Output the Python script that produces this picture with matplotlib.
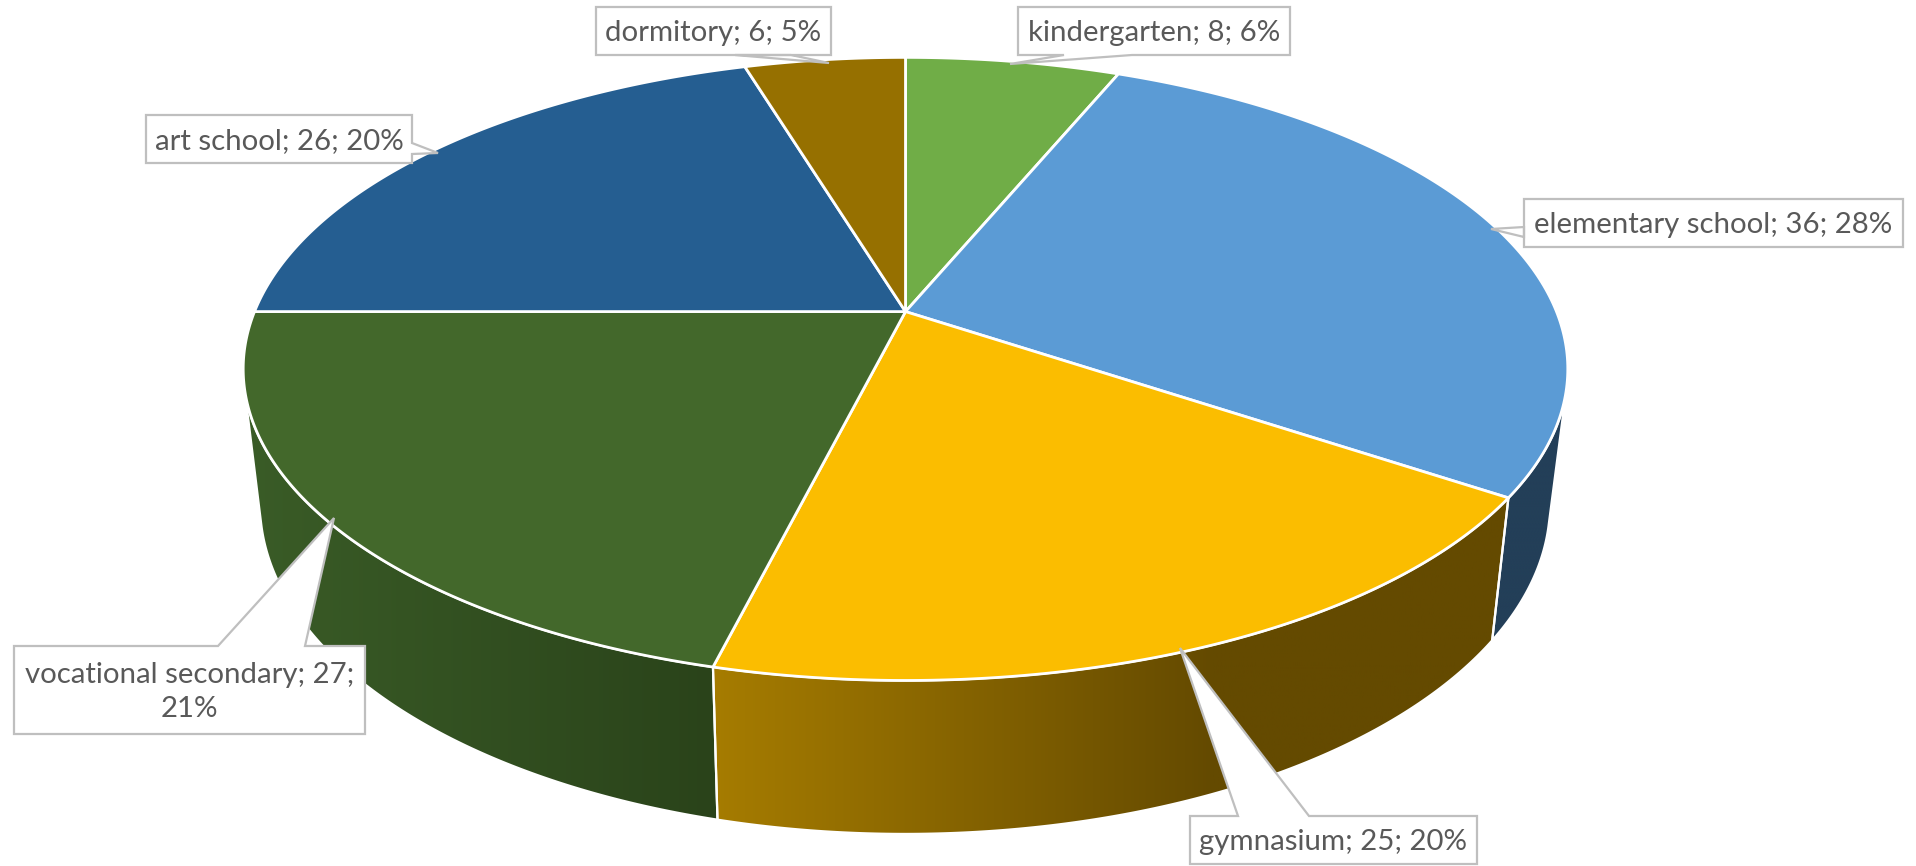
import matplotlib
matplotlib.use('Agg')
import matplotlib.pyplot as plt
from matplotlib.patches import Polygon
from matplotlib.colors import LinearSegmentedColormap
import numpy as np

# Data ===========================================
categories = ['kindergarten', 'elementary school', 'gymnasium',
              'vocational secondary', 'art school', 'dormitory']
values = [8, 36, 25, 27, 26, 6]
label_breaks = {'vocational secondary': ';\n'}

top_colors = ['#70AD47', '#5B9BD5', '#FBBD00', '#43682B', '#255E91', '#967000']
# side faces: left colour, right colour
side_colors = {'elementary school': ('#233F58', '#233F58'),
               'gymnasium': ('#A67C00', '#644A00'),
               'vocational secondary': ('#3A5C27', '#2A431A')}
text_color = '#595959'
box_color = '#BFBFBF'

# label boxes: x0, y0, x1, y1 in pixels, then the leader (base a, base b, tip)
boxes = {
    'kindergarten': (1018, 7, 1290, 55, (1132, 55), (1064, 55), (1010, 64)),
    'elementary school': (1524, 199, 1903, 247, (1524, 227), (1524, 237), (1491, 229)),
    'gymnasium': (1190, 816, 1477, 864, (1238, 816), (1309, 816), (1180, 648)),
    'vocational secondary': (14, 646, 365, 734, (218, 646), (305, 646), (334, 518)),
    'art school': (146, 115, 412, 163, (412, 143), (412, 154), (438, 153)),
    'dormitory': (596, 7, 831, 55, (735, 55), (791, 55), (829, 63)),
}

# Perspective of the two discs ===================
k = 0.184
top_disc = (905.5, 311.6, 651, 301)
bottom_disc = (905, 443, 634, 319)
side_from, side_to = 104, 256  # silhouette of the cylinder, degrees


def rim(disc, angles):
    cx, cy, a, b = disc
    rad = np.radians(angles)
    w = 1 + k * np.cos(rad)
    return np.column_stack([cx + a * np.sin(rad) / w, cy - b * np.cos(rad) / w])


# General ========================================
fig = plt.figure(figsize=(19.16, 8.66), dpi=100)
ax = fig.add_axes([0, 0, 1, 1])
total = sum(values)
edges = np.concatenate([[0], np.cumsum(values)]) / total * 360

# Sides ==========================================
for i, name in enumerate(categories):
    if name not in side_colors:
        continue
    a0 = max(edges[i], side_from)
    a1 = min(edges[i + 1], side_to)
    arc = np.linspace(a0, a1, 150)
    pts = np.vstack([rim(top_disc, arc), rim(bottom_disc, arc[::-1])])
    outline = Polygon(pts, closed=True, fc='none', ec='white', lw=1.6, zorder=3)
    ax.add_patch(outline)
    cmap = LinearSegmentedColormap.from_list(name, side_colors[name])
    x0, x1 = pts[:, 0].min(), pts[:, 0].max()
    if name == 'gymnasium':
        # gradient stops at the foot of the leader, flat after that
        ramp = np.clip((np.linspace(x0, x1, 400) - x0) / (1215 - x0), 0, 1)
    else:
        ramp = np.linspace(0, 1, 400)
    img = ax.imshow(ramp[None, :], cmap=cmap, vmin=0, vmax=1, aspect='auto',
                    extent=(x0, x1, pts[:, 1].max(), pts[:, 1].min()), zorder=2)
    img.set_clip_path(Polygon(pts, closed=True, transform=ax.transData))

# Top ============================================
centre = top_disc[:2]
for i, name in enumerate(categories):
    arc = np.linspace(edges[i], edges[i + 1], 150)
    pts = np.vstack([[centre], rim(top_disc, arc)])
    ax.add_patch(Polygon(pts, closed=True, fc=top_colors[i], ec='white', lw=2,
                         joinstyle='round', zorder=4))

# Labels =========================================
for name, value in zip(categories, values):
    x0, y0, x1, y1, base_a, base_b, tip = boxes[name]
    corners = [(x0, y0), (x1, y0), (x1, y1), (x0, y1)]
    # put the leader into the side of the box it leaves from
    if base_a[1] == y0:
        path = [corners[0], base_a, tip, base_b] + corners[1:]
    elif base_a[1] == y1:
        path = corners[:3] + [base_a, tip, base_b, corners[3]]
    elif base_a[0] == x1:
        path = corners[:2] + [base_a, tip, base_b] + corners[2:]
    else:
        path = corners + [base_a, tip, base_b]
    ax.add_patch(Polygon(path, closed=True, fc='white', ec=box_color, lw=1.6, zorder=5))
    sep = label_breaks.get(name, '; ')
    pct = round(value / total * 100)
    ax.text((x0 + x1) / 2, (y0 + y1) / 2 + 2, f'{name}; {value}{sep}{pct}%',
            ha='center', va='center', family='Lato', fontsize=21.2,
            color=text_color, linespacing=1.4, zorder=6)

ax.set_xlim(0, 1916)
ax.set_ylim(866, 0)
ax.axis('off')

plt.savefig('out.png', dpi=100, facecolor='white')
